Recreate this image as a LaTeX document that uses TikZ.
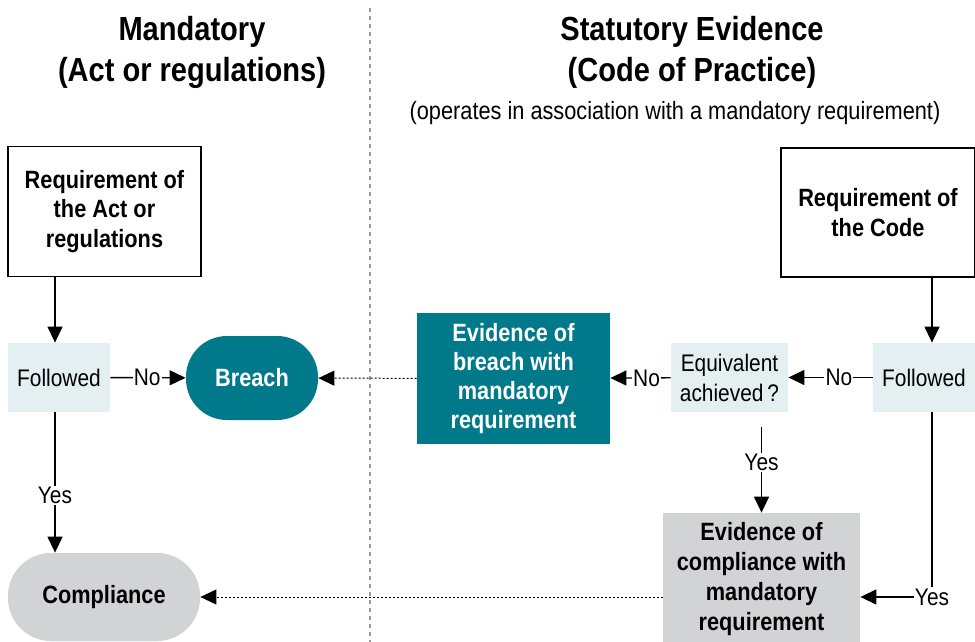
\documentclass[tikz,border=0pt]{standalone}
\usepackage{fontspec}
\setmainfont{Liberation Sans}[FakeStretch=0.87]
\usetikzlibrary{arrows.meta}
\definecolor{breachteal}{HTML}{00798A}
\definecolor{paleblue}{HTML}{E3EFF1}
\definecolor{softgrey}{HTML}{D2D3D4}
\definecolor{dividergrey}{HTML}{9A9A9A}
\begin{document}
\begin{tikzpicture}[x=0.5pt, y=-0.5pt,
    boldtext/.style={font=\fontsize{12.5}{14.6}\selectfont\bfseries, align=center},
    plaintext/.style={font=\fontsize{12}{15}\selectfont, align=center},
    reqbox/.style={draw=black, line width=0.7pt, fill=white, boldtext, minimum width=96.5pt, minimum height=65pt},
    askbox/.style={fill=paleblue, plaintext, minimum height=34.5pt},
    tealbox/.style={fill=breachteal, text=white, boldtext},
    greybox/.style={fill=softgrey, boldtext},
    arr/.style={-{Triangle[length=8pt,width=7.5pt]}, line width=0.7pt},
    dotarr/.style={arr, dash pattern=on 1pt off 1pt, line width=0.5pt},
    lbl/.style={fill=white, inner sep=0.6pt, plaintext}]
    \clip (0,0) rectangle (975,642);

    % divider between the two columns
    \draw[dividergrey, line width=1pt, dash pattern=on 2pt off 2pt] (370,8) -- (370,642);

    % headings
    \node[font=\fontsize{16.7}{20.5}\selectfont\bfseries, align=center] (headact) at (192,52.5) {Mandatory\\(Act or regulations)};
    \node[font=\fontsize{16.7}{20.5}\selectfont\bfseries, align=center] (headcode) at (692,52.5) {Statutory Evidence\\(Code of Practice)};
    \node[font=\fontsize{12.5}{14}\selectfont] (subcode) at (675,113) {(operates in association with a mandatory requirement)};

    % left column
    \node[reqbox] (reqact) at (104.5,211.5) {Requirement of\\the Act or\\regulations};
    \node[askbox, minimum width=51pt] (folL) at (59,377.5) {Followed};
    \node[tealbox, rounded corners=20.5pt, minimum width=66pt, minimum height=42pt] (breach) at (252,378) {Breach};
    \node[greybox, rounded corners=21.5pt, minimum width=96pt, minimum height=44pt] (compl) at (104,597) {Compliance};

    % right column
    \node[reqbox, minimum width=97pt, minimum height=64.5pt] (reqcode) at (878,212.5) {Requirement of\\the Code};
    \node[askbox, minimum width=51pt] (folR) at (924,377.5) {Followed};
    \node[askbox, minimum width=58.5pt] (equiv) at (729.5,377.5) {Equivalent\\achieved\,?};
    \node[tealbox, minimum width=96.5pt, minimum height=65.5pt] (evbreach) at (513.5,378.5) {Evidence of\\breach with\\mandatory\\requirement};
    \node[greybox, minimum width=98.5pt, minimum height=66pt, font=\fontsize{12.5}{15}\selectfont\bfseries] (evcompl) at (761.5,579) {Evidence of\\compliance with\\mandatory\\requirement};

    \coordinate (lline) at (55,0);
    \coordinate (rline) at (932,0);
    \coordinate (yesrow) at (0,597);

    % connectors
    \draw[arr] (reqact.south -| lline) -- (folL.north -| lline);
    \draw[arr] (folL) -- node[lbl, pos=0.49] {No} (breach);
    \draw[arr] (folL.south -| lline) -- node[lbl, pos=0.59] {Yes} (compl.north -| lline);

    \draw[arr] (reqcode.south -| rline) -- (folR.north -| rline);
    \draw[arr] (folR) -- node[lbl, pos=0.4] {No} (equiv);
    \draw[arr] (equiv) -- node[lbl, pos=0.4] {No} (evbreach);
    \draw[arr, shorten <=7.5pt] (equiv.south -| evcompl.north) -- node[lbl] {Yes} (evcompl.north);
    \draw[arr] (folR.south -| rline) |- node[lbl, pos=0.5] {Yes} (evcompl.east |- yesrow);

    \draw[dotarr] (evbreach) -- (breach);
    \draw[dotarr] (evcompl.west |- yesrow) -- (compl.east |- yesrow);
\end{tikzpicture}
\end{document}
